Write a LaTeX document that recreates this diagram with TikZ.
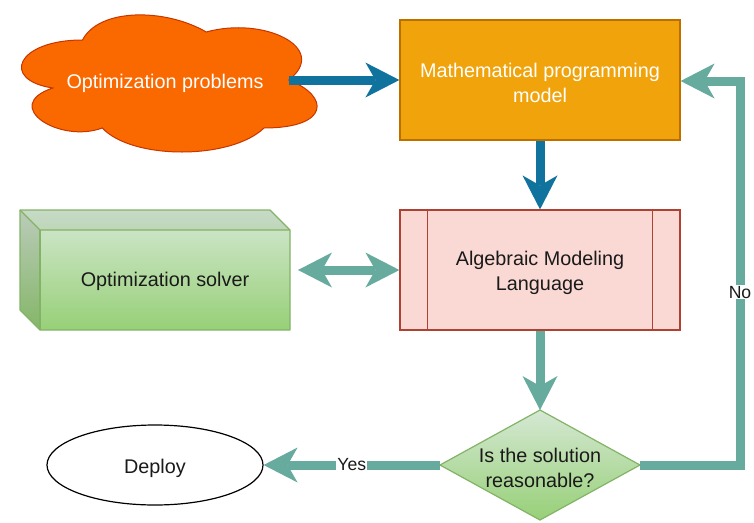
\documentclass[tikz,border=0pt]{standalone}
\usepackage{fontspec}
\setmainfont{Liberation Sans}
\usetikzlibrary{arrows.meta,shapes.geometric}
\definecolor{cloudfill}{HTML}{FA6800}
\definecolor{cloudline}{HTML}{C73500}
\definecolor{mathfill}{HTML}{F0A30A}
\definecolor{mathline}{HTML}{BD7000}
\definecolor{amlfill}{HTML}{FAD9D5}
\definecolor{amlline}{HTML}{AE4132}
\definecolor{gtop}{HTML}{D5E8D4}
\definecolor{gbot}{HTML}{97D077}
\definecolor{gline}{HTML}{82B366}
\definecolor{arrblue}{HTML}{10739E}
\definecolor{arrgreen}{HTML}{67AB9F}
\definecolor{txt}{HTML}{1A1A1A}
\begin{document}
\begin{tikzpicture}[x=1pt,y=-1pt,
  mainfont/.style={font=\fontsize{19.8}{24.5}\selectfont},
  lblfont/.style={font=\fontsize{17.6}{20}\selectfont},
  tnode/.style={mainfont,align=center,yshift=-3pt},
  bluearr/.style={draw=arrblue,line width=9pt,-{Stealth[length=34pt,width=35pt,inset=10pt,line width=0pt]}},
  greenarr/.style={draw=arrgreen,line width=9pt,-{Stealth[length=34pt,width=35pt,inset=10pt,line width=0pt]}},
  dblarr/.style={draw=arrgreen,line width=9pt,{Stealth[length=34pt,width=35pt,inset=10pt,line width=0pt]}-{Stealth[length=34pt,width=35pt,inset=10pt,line width=0pt]}},
  boxstyle/.style={rectangle,minimum width=280pt,minimum height=120pt,line width=1.2pt},
  lbl/.style={fill=white,inner sep=1pt,lblfont,text=txt}
]
\useasboundingbox (0,0) rectangle (754,522);

% cloud
\path[fill=cloudfill,draw=cloudline,line width=1pt]
  (82.5,40) .. controls (16.5,40) and (0,80) .. (52.8,88)
  .. controls (0,105.6) and (59.4,144) .. (102.3,128)
  .. controls (132,160) and (231,160) .. (264,128)
  .. controls (330,128) and (330,96) .. (288.75,80)
  .. controls (330,48) and (264,16) .. (206.25,32)
  .. controls (165,8) and (99,8) .. (82.5,40) -- cycle;
\node[tnode,text=white] (cloud) at (165,80) {Optimization problems};
\coordinate (cloudE) at (288.75,80);

% math model
\node[boxstyle,fill=mathfill,draw=mathline] (math) at (540,80) {};
\node[tnode,text=white] (mathtext) at (math.center) {Mathematical programming\\model};

% AML
\node[boxstyle,fill=amlfill,draw=amlline] (aml) at (540,270) {};
\node[tnode,text=txt] (amltext) at (aml.center) {Algebraic Modeling\\Language};
\draw[amlline,line width=1.2pt] ([xshift=28pt]aml.north west) -- ([xshift=28pt]aml.south west);
\draw[amlline,line width=1.2pt] ([xshift=-28pt]aml.north east) -- ([xshift=-28pt]aml.south east);

% solver cube
\path[top color=gtop,bottom color=gbot] (20,210) -- (270,210) -- (290,230) -- (290,330) -- (40,330) -- (20,310) -- cycle;
\fill[black,opacity=0.06] (20,210) -- (270,210) -- (290,230) -- (40,230) -- cycle;
\fill[black,opacity=0.12] (20,210) -- (40,230) -- (40,330) -- (20,310) -- cycle;
\draw[gline,line width=1.2pt,line join=round] (20,210) -- (270,210) -- (290,230) -- (290,330) -- (40,330) -- (20,310) -- cycle;
\draw[gline,line width=1.2pt] (20,210) -- (40,230) -- (290,230);
\draw[gline,line width=1.2pt] (40,230) -- (40,330);
\node[tnode,text=txt] (solver) at (165,278) {Optimization solver};
\coordinate (solverE) at (298,270);

% decision diamond
\path[top color=gtop,bottom color=gbot,draw=gline,line width=1.2pt] (540,410) -- (640,465) -- (540,520) -- (440,465) -- cycle;
\node[tnode,text=txt] (dec) at (540,465) {Is the solution\\reasonable?};
\coordinate (decN) at (540,410);
\coordinate (decW) at (440,465);
\coordinate (decE) at (640,465);
\coordinate (noc1) at (740,465);
\coordinate (noc2) at (740,81);

% deploy
\node[ellipse,draw=black,line width=1.2pt,fill=white,minimum width=216pt,minimum height=80pt] (deploy) at (155,465) {};
\node[tnode,text=txt] (deploytext) at (deploy.center) {Deploy};

% connectors
\draw[bluearr] (cloudE) -- (math.west);
\draw[bluearr] (math.south) -- (aml.north);
\draw[dblarr] (solverE) -- (aml.west);
\draw[greenarr] (aml.south) -- (decN);
\draw[greenarr] (decW) -- node[lbl] {Yes} (deploy.east);
\draw[greenarr,line join=miter] (decE) -- (noc1) -- node[lbl,pos=0.45] {No} (noc2) -- (math.east |- noc2);
\end{tikzpicture}
\end{document}
